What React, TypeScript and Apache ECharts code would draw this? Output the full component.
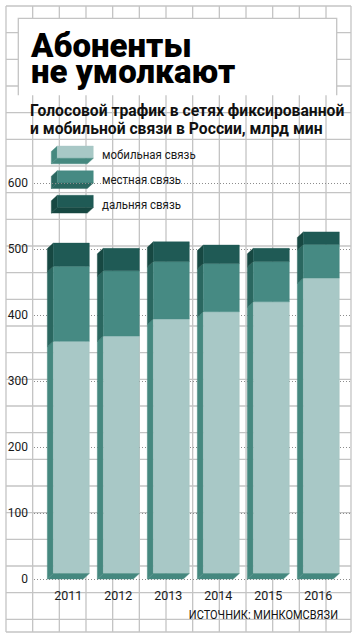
import React, { useEffect, useRef } from 'react';
import * as echarts from 'echarts';

// ---- data ----
const CATEGORIES = ['2011', '2012', '2013', '2014', '2015', '2016'];
const MOBILE = [352, 360, 386, 397, 412, 448]; // мобильная связь
const LOCAL = [114, 99, 87, 73, 61, 51]; // местная связь
const LONG_DIST = [35, 34, 30, 28, 20, 19]; // дальняя связь
const SERIES_NAMES = ['мобильная связь', 'местная связь', 'дальняя связь'];
const Y_MIN = 0;
const Y_MAX = 600;
const Y_STEP = 100;

const TITLE = 'Абоненты\nне умолкают';
const SUBTITLE_LINES = [
  'Голосовой трафик в сетях фиксированной',
  'и мобильной связи в России, млрд мин',
];
const SOURCE = 'ИСТОЧНИК: МИНКОМСВЯЗИ';

// ---- styles ----
const FRONT = ['#a8c8c6', '#468a83', '#1f5a55'];
const SIDE = ['#45887f', '#2a6760', '#174842'];
const GRID_COLOR = '#c4c4c4';
const FONT = 'Roboto';

const BAR_W = 36;
const DX = 6;
const DY = 5.5;

function box3d(x: number, y: number, w: number, h: number, front: string, side: string, bottom: boolean) {
  // x,y = top-left of front face
  const ch: any[] = [
    {
      type: 'polygon',
      shape: { points: [[x - DX, y + DY], [x, y], [x, y + h], [x - DX, y + h + DY]] },
      style: { fill: side, stroke: side, lineWidth: 0.4 },
    },
    {
      type: 'rect',
      shape: { x, y, width: w, height: h },
      style: { fill: front, stroke: front, lineWidth: 0.4 },
    },
  ];
  if (bottom) {
    ch.push({
      type: 'polygon',
      shape: { points: [[x - DX, y + h + DY], [x, y + h], [x + w, y + h], [x + w - DX, y + h + DY]] },
      style: { fill: side, stroke: side, lineWidth: 0.4 },
    });
  }
  return ch;
}

export default function App() {
  const ref = useRef<HTMLDivElement>(null);

  useEffect(() => {
    const chart = echarts.init(ref.current!, null, { renderer: 'svg' });

    // stacked segments
    const segs = [MOBILE, LOCAL, LONG_DIST];
    const seriesData: number[][][] = [[], [], []];
    CATEGORIES.forEach((_, i) => {
      let acc = 0;
      segs.forEach((arr, k) => {
        seriesData[k].push([i, acc, acc + arr[i]]);
        acc += arr[i];
      });
    });

    // background cell grid (decoration)
    const bg: any[] = [];
    const cell = 26.667;
    for (let k = 0; k <= 13; k++) {
      const x = k === 13 ? 351 : 6 + k * cell;
      bg.push({ type: 'line', shape: { x1: x, y1: 6, x2: x, y2: 632 }, style: { stroke: GRID_COLOR, lineWidth: 1.3 }, silent: true, z: -10 });
    }
    for (let k = 0; k <= 24; k++) {
      const y = k === 24 ? 632 : 6 + k * cell;
      bg.push({ type: 'line', shape: { x1: 6, y1: y, x2: 351, y2: y }, style: { stroke: GRID_COLOR, lineWidth: 1.3 }, silent: true, z: -10 });
    }
    // white title box
    bg.push({ type: 'rect', shape: { x: 18.3, y: 18.3, width: 318.4, height: 77 }, style: { fill: '#fff' }, z: -9 });
    bg.push({
      type: 'polyline',
      shape: { points: [[18.3, 95.3], [18.3, 18.3], [336.7, 18.3], [336.7, 95.3]] },
      style: { stroke: GRID_COLOR, lineWidth: 1.3, fill: 'none' },
      z: -9,
    });

    const texts: any[] = [
      { type: 'text', x: 31, y: 58.5, z: 50, style: { text: TITLE, fontSize: 33, lineHeight: 26.7, fontWeight: 900, fontFamily: FONT, fill: '#000', verticalAlign: 'middle' } },
      { type: 'text', x: 30, y: 110, z: 50, style: { text: SUBTITLE_LINES[0], fontSize: 15.7, fontWeight: 'bold', fontFamily: FONT, fill: '#111', verticalAlign: 'middle' } },
      { type: 'text', x: 30, y: 128.5, z: 50, style: { text: SUBTITLE_LINES[1], fontSize: 15.7, fontWeight: 'bold', fontFamily: FONT, fill: '#111', verticalAlign: 'middle' } },
      { type: 'text', x: 338, y: 615, z: 50, scaleX: 0.88, style: { text: SOURCE, fontSize: 12.5, fontFamily: FONT, fill: '#111', align: 'right', verticalAlign: 'middle' } },
    ];

    // legend
    const legendTops = [146, 170.7, 195.3];
    SERIES_NAMES.forEach((name, k) => {
      texts.push({
        type: 'group',
        z: 40,
        children: box3d(57.3, legendTops[k], 36, 12.3, FRONT[k], SIDE[k], true),
      });
      texts.push({
        type: 'text', x: 102, y: legendTops[k] + 8.5, z: 50, scaleX: 0.85,
        style: { text: name, fontSize: 13.5, fontFamily: FONT, fill: '#1a1a1a', verticalAlign: 'middle' },
      });
    });

    const gridTop = 183.3;
    const gridH = 395.7;

    const option: any = {
      animation: false,
      backgroundColor: '#fff',
      grid: [
        { left: 34, right: 6, top: gridTop, height: gridH },
        { left: 43.33, width: 300, top: gridTop, height: gridH },
      ],
      xAxis: [
        { type: 'value', gridIndex: 0, show: false, min: 0, max: 1 },
        {
          type: 'category', gridIndex: 1, data: CATEGORIES,
          axisLine: { show: false }, axisTick: { show: false },
          axisLabel: { fontSize: 12.5, fontFamily: FONT, color: '#1a1a1a', margin: 10 },
        },
      ],
      yAxis: [
        {
          type: 'value', gridIndex: 0, min: Y_MIN, max: Y_MAX, interval: Y_STEP,
          axisLine: { show: false }, axisTick: { show: false },
          axisLabel: { fontSize: 12, fontFamily: FONT, color: '#1a1a1a', margin: 6 },
          splitLine: { show: true, lineStyle: { color: '#8c8c8c', width: 1, type: [1, 2] } },
        },
        { type: 'value', gridIndex: 1, min: Y_MIN, max: Y_MAX, interval: Y_STEP, show: false, splitLine: { show: false } },
      ],
      graphic: [...bg, ...texts],
      series: SERIES_NAMES.map((name, k) => ({
        type: 'custom',
        name,
        xAxisIndex: 1,
        yAxisIndex: 1,
        z: 5,
        data: seriesData[k],
        encode: { x: 0, y: [1, 2] },
        renderItem: (params: any, api: any) => {
          const i = api.value(0);
          const s = api.value(1);
          const e = api.value(2);
          const pb = api.coord([i, s]);
          const pt = api.coord([i, e]);
          const c = pb[0];
          const x = c - BAR_W / 2 + DX / 2;
          const y = pt[1] - DY;
          const h = pb[1] - pt[1];
          return { type: 'group', children: box3d(x, y, BAR_W, h, FRONT[k], SIDE[k], k === 0) };
        },
      })),
    };

    chart.setOption(option);
    return () => chart.dispose();
  }, []);

  return (
    <div
      ref={ref}
      style={{ position: 'absolute', left: 0, top: 0, width: 357, height: 640, background: '#fff' }}
    />
  );
}
